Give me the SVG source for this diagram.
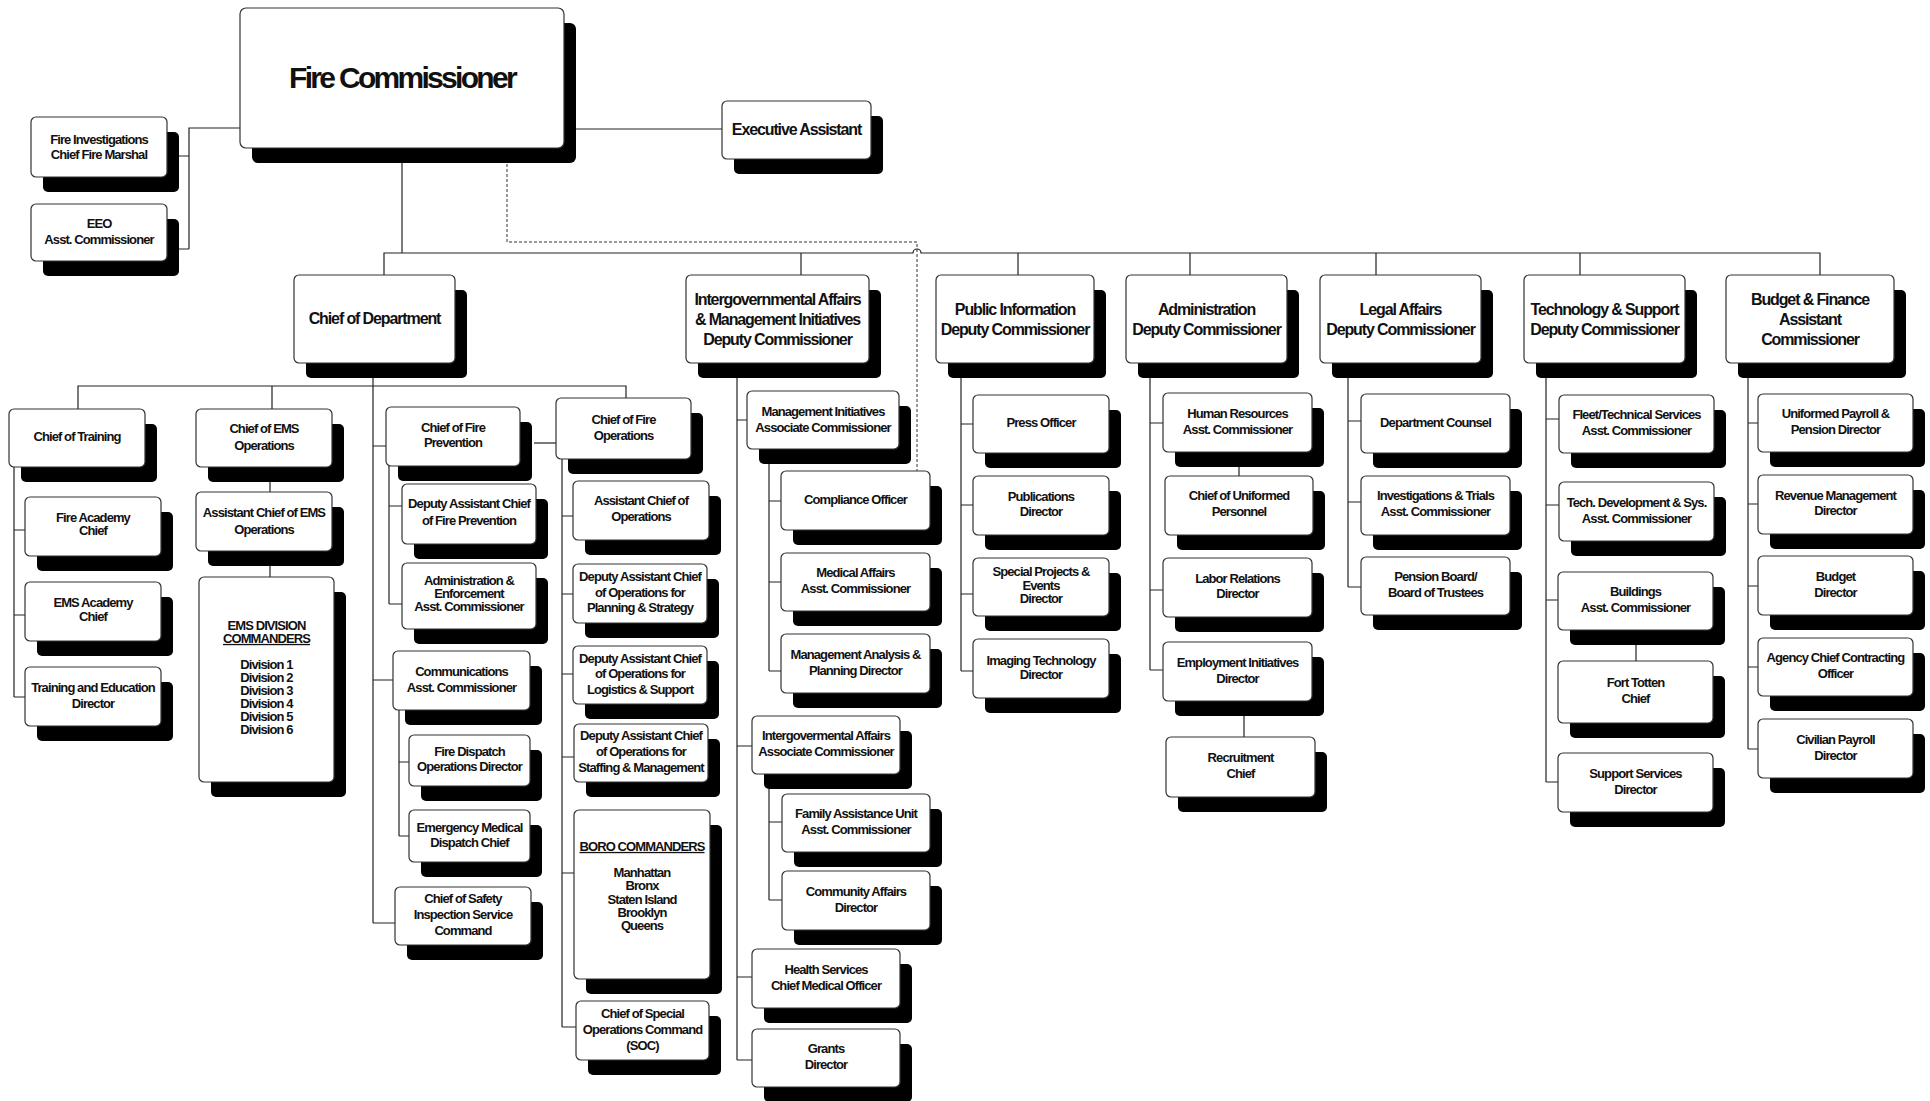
<svg xmlns="http://www.w3.org/2000/svg" width="1930" height="1101" viewBox="0 0 1930 1101">
<style>
.sh{fill:#000}
.bx{fill:#fff;stroke:#333;stroke-width:1.2}
.t,.t2,.t1{font-family:"Liberation Sans",Arial,sans-serif;font-weight:bold;text-anchor:middle;fill:#111}
.t{font-size:13px;letter-spacing:-0.07em;transform:translateY(-1px)}
.t2{font-size:16px;letter-spacing:-0.07em}
.t1{font-size:30px;letter-spacing:-0.09em}
.u{text-decoration:underline}
.ln{fill:none;stroke:#222;stroke-width:1.2}
.dash{fill:none;stroke:#333;stroke-width:1;stroke-dasharray:3 2}
</style>
<rect width="1930" height="1101" fill="#fff"/>
<g id="connectors">
<path class="ln" d="M240,128 H189 V249 M189,156 H179 M189,249 H179"/>
<path class="ln" d="M576,129 H722"/>
<path class="ln" d="M402,148 V253"/>
<path class="ln" d="M384,275 V253 H913 A4,4 0 0 1 921,253 H1820 V275 M801,253 V275 M1018,253 V275 M1190,253 V275 M1376,253 V275 M1580,253 V275"/>
<path class="dash" d="M507,164 V242 H917 V471"/>
<path class="ln" d="M373,378 V923 M373,446 H386 M373,680 H393 M373,923 H395"/>
<path class="ln" d="M78,409 V386 H626 V398 M272,386 V409"/>
<path class="ln" d="M14,467 V697 M14,530 H25 M14,615 H25 M14,697 H25"/>
<path class="ln" d="M270,482 V492 M270,566 V577"/>
<path class="ln" d="M389,466 V604 M389,506 H402 M389,604 H402"/>
<path class="ln" d="M399,710 V836 M399,762 H409 M399,836 H409"/>
<path class="ln" d="M534,443 H556"/>
<path class="ln" d="M562,459 V1027 M562,516 H573 M562,594 H573 M562,674 H573 M562,757 H574 M562,873 H574 M562,1027 H576"/>
<path class="ln" d="M737,378 V1060 M737,420 H747 M737,746 H752 M737,977 H752 M737,1060 H752"/>
<path class="ln" d="M769,464 V671 M769,501 H781 M769,582 H781 M769,671 H781"/>
<path class="ln" d="M769,789 V900 M769,822 H782 M769,900 H782"/>
<path class="ln" d="M961,378 V671 M961,424 H973 M961,505 H973 M961,594 H973 M961,671 H973"/>
<path class="ln" d="M1150,378 V670 M1150,423 H1163 M1150,590 H1163 M1150,670 H1163"/>
<path class="ln" d="M1239,467 V476 M1244,716 V737"/>
<path class="ln" d="M1348,378 V587 M1348,421 H1361 M1348,502 H1361 M1348,587 H1361"/>
<path class="ln" d="M1546,378 V782 M1546,419 H1559 M1546,505 H1559 M1546,600 H1558 M1546,782 H1558"/>
<path class="ln" d="M1636,645 V661"/>
<path class="ln" d="M1748,378 V749 M1748,423 H1758 M1748,504 H1758 M1748,586 H1758 M1748,667 H1758 M1748,749 H1758"/>
</g>

<g id="n-fc"><rect class="sh" x="252" y="23" width="324" height="140" rx="6"/><rect class="bx" x="240" y="8" width="324" height="140" rx="6"/><text class="t1" x="402" y="88">Fire Commissioner</text></g>
<g id="n-fi"><rect class="sh" x="43" y="132" width="136" height="60" rx="5"/><rect class="bx" x="31" y="117" width="136" height="60" rx="5"/><text class="t"><tspan x="99" y="144.6">Fire Investigations</tspan><tspan x="99" y="160.1">Chief Fire Marshal</tspan></text></g>
<g id="n-eeo"><rect class="sh" x="43" y="219" width="136" height="57" rx="5"/><rect class="bx" x="31" y="204" width="136" height="57" rx="5"/><text class="t"><tspan x="99" y="228.6">EEO</tspan><tspan x="99" y="245.3">Asst. Commissioner</tspan></text></g>
<g id="n-ea"><rect class="sh" x="734" y="116" width="149" height="58" rx="5"/><rect class="bx" x="722" y="101" width="149" height="58" rx="5"/><text class="t2" x="796.5" y="135">Executive Assistant</text></g>

<g id="n-cod"><rect class="sh" x="306" y="290" width="161" height="88" rx="5"/><rect class="bx" x="294" y="275" width="161" height="88" rx="5"/><text class="t2" x="374.5" y="323.7">Chief of Department</text></g>
<g id="n-iga"><rect class="sh" x="698" y="290" width="183" height="88" rx="5"/><rect class="bx" x="686" y="275" width="183" height="88" rx="5"/><text class="t2"><tspan x="777.5" y="305">Intergovernmental Affairs</tspan><tspan x="777.5" y="324.7">&amp; Management Initiatives</tspan><tspan x="777.5" y="344.7">Deputy Commissioner</tspan></text></g>
<g id="n-pi"><rect class="sh" x="948" y="290" width="158" height="88" rx="5"/><rect class="bx" x="936" y="275" width="158" height="88" rx="5"/><text class="t2"><tspan x="1015" y="315">Public Information</tspan><tspan x="1015" y="334.7">Deputy Commissioner</tspan></text></g>
<g id="n-adm"><rect class="sh" x="1138" y="290" width="161" height="88" rx="5"/><rect class="bx" x="1126" y="275" width="161" height="88" rx="5"/><text class="t2"><tspan x="1206.5" y="315">Administration</tspan><tspan x="1206.5" y="334.7">Deputy Commissioner</tspan></text></g>
<g id="n-legal"><rect class="sh" x="1332" y="290" width="161" height="88" rx="5"/><rect class="bx" x="1320" y="275" width="161" height="88" rx="5"/><text class="t2"><tspan x="1400.5" y="315">Legal Affairs</tspan><tspan x="1400.5" y="334.7">Deputy Commissioner</tspan></text></g>
<g id="n-tech"><rect class="sh" x="1536" y="290" width="161" height="88" rx="5"/><rect class="bx" x="1524" y="275" width="161" height="88" rx="5"/><text class="t2"><tspan x="1604.5" y="315">Technology &amp; Support</tspan><tspan x="1604.5" y="334.7">Deputy Commissioner</tspan></text></g>
<g id="n-budget"><rect class="sh" x="1738" y="290" width="168" height="88" rx="5"/><rect class="bx" x="1726" y="275" width="168" height="88" rx="5"/><text class="t2"><tspan x="1810" y="305">Budget &amp; Finance</tspan><tspan x="1810" y="325">Assistant</tspan><tspan x="1810" y="344.7">Commissioner</tspan></text></g>

<g id="n-cot"><rect class="sh" x="21" y="424" width="136" height="58" rx="5"/><rect class="bx" x="9" y="409" width="136" height="58" rx="5"/><text class="t" x="77" y="442.3">Chief of Training</text></g>
<g id="n-fac"><rect class="sh" x="37" y="512" width="136" height="59" rx="5"/><rect class="bx" x="25" y="497" width="136" height="59" rx="5"/><text class="t"><tspan x="93" y="523.3">Fire Academy</tspan><tspan x="93" y="535.9">Chief</tspan></text></g>
<g id="n-eac"><rect class="sh" x="37" y="597" width="136" height="59" rx="5"/><rect class="bx" x="25" y="582" width="136" height="59" rx="5"/><text class="t"><tspan x="93" y="608.3">EMS Academy</tspan><tspan x="93" y="622.3">Chief</tspan></text></g>
<g id="n-ted"><rect class="sh" x="37" y="682" width="136" height="59" rx="5"/><rect class="bx" x="25" y="667" width="136" height="59" rx="5"/><text class="t"><tspan x="93" y="693.3">Training and Education</tspan><tspan x="93" y="709.3">Director</tspan></text></g>
<g id="n-cems"><rect class="sh" x="208" y="424" width="136" height="58" rx="5"/><rect class="bx" x="196" y="409" width="136" height="58" rx="5"/><text class="t"><tspan x="264" y="433.9">Chief of EMS</tspan><tspan x="264" y="450.6">Operations</tspan></text></g>
<g id="n-acems"><rect class="sh" x="208" y="507" width="136" height="59" rx="5"/><rect class="bx" x="196" y="492" width="136" height="59" rx="5"/><text class="t"><tspan x="264" y="518.3">Assistant Chief of EMS</tspan><tspan x="264" y="534.6">Operations</tspan></text></g>
<g id="n-emsdiv"><rect class="sh" x="211" y="592" width="135" height="205" rx="5"/><rect class="bx" x="199" y="577" width="135" height="205" rx="5"/><text class="t"><tspan x="266.5" y="630.9">EMS DIVISION</tspan><tspan class="u" x="266.5" y="643.9">COMMANDERS</tspan><tspan x="266.5" y="669.9">Division 1</tspan><tspan x="266.5" y="682.9">Division 2</tspan><tspan x="266.5" y="695.9">Division 3</tspan><tspan x="266.5" y="708.9">Division 4</tspan><tspan x="266.5" y="721.9">Division 5</tspan><tspan x="266.5" y="734.9">Division 6</tspan></text></g>
<g id="n-cfp"><rect class="sh" x="398" y="422" width="134" height="59" rx="5"/><rect class="bx" x="386" y="407" width="134" height="59" rx="5"/><text class="t"><tspan x="453" y="432.9">Chief of Fire</tspan><tspan x="453" y="448.3">Prevention</tspan></text></g>
<g id="n-dacfp"><rect class="sh" x="414" y="499" width="134" height="60" rx="5"/><rect class="bx" x="402" y="484" width="134" height="60" rx="5"/><text class="t"><tspan x="469" y="509.3">Deputy Assistant Chief</tspan><tspan x="469" y="525.9">of Fire Prevention</tspan></text></g>
<g id="n-aea"><rect class="sh" x="414" y="578" width="134" height="66" rx="5"/><rect class="bx" x="402" y="563" width="134" height="66" rx="5"/><text class="t"><tspan x="469" y="586.3">Administration &amp;</tspan><tspan x="469" y="599.3">Enforcement</tspan><tspan x="469" y="611.6">Asst. Commissioner</tspan></text></g>
<g id="n-comm"><rect class="sh" x="405" y="666" width="137" height="59" rx="5"/><rect class="bx" x="393" y="651" width="137" height="59" rx="5"/><text class="t"><tspan x="461.5" y="676.6">Communications</tspan><tspan x="461.5" y="692.6">Asst. Commissioner</tspan></text></g>
<g id="n-fdod"><rect class="sh" x="421" y="750" width="121" height="51" rx="5"/><rect class="bx" x="409" y="735" width="121" height="51" rx="5"/><text class="t"><tspan x="469.5" y="756.9">Fire Dispatch</tspan><tspan x="469.5" y="771.9">Operations Director</tspan></text></g>
<g id="n-emdc"><rect class="sh" x="421" y="825" width="121" height="52" rx="5"/><rect class="bx" x="409" y="810" width="121" height="52" rx="5"/><text class="t"><tspan x="469.5" y="832.9">Emergency Medical</tspan><tspan x="469.5" y="847.9">Dispatch Chief</tspan></text></g>
<g id="n-csis"><rect class="sh" x="407" y="902" width="136" height="58" rx="5"/><rect class="bx" x="395" y="887" width="136" height="58" rx="5"/><text class="t"><tspan x="463" y="903.6">Chief of Safety</tspan><tspan x="463" y="920.3">Inspection Service</tspan><tspan x="463" y="935.9">Command</tspan></text></g>
<g id="n-cfo"><rect class="sh" x="568" y="413" width="135" height="61" rx="5"/><rect class="bx" x="556" y="398" width="135" height="61" rx="5"/><text class="t"><tspan x="623.5" y="424.9">Chief of Fire</tspan><tspan x="623.5" y="440.9">Operations</tspan></text></g>
<g id="n-aco"><rect class="sh" x="585" y="496" width="136" height="59" rx="5"/><rect class="bx" x="573" y="481" width="136" height="59" rx="5"/><text class="t"><tspan x="641" y="506.3">Assistant Chief of</tspan><tspan x="641" y="522.3">Operations</tspan></text></g>
<g id="n-dps"><rect class="sh" x="585" y="579" width="134" height="59" rx="5"/><rect class="bx" x="573" y="564" width="134" height="59" rx="5"/><text class="t"><tspan x="640" y="582.3">Deputy Assistant Chief</tspan><tspan x="640" y="598.3">of Operations for</tspan><tspan x="640" y="612.9">Planning &amp; Strategy</tspan></text></g>
<g id="n-dls"><rect class="sh" x="585" y="661" width="134" height="58" rx="5"/><rect class="bx" x="573" y="646" width="134" height="58" rx="5"/><text class="t"><tspan x="640" y="663.6">Deputy Assistant Chief</tspan><tspan x="640" y="679.3">of Operations for</tspan><tspan x="640" y="694.9">Logistics &amp; Support</tspan></text></g>
<g id="n-dsm"><rect class="sh" x="586" y="739" width="134" height="58" rx="5"/><rect class="bx" x="574" y="724" width="134" height="58" rx="5"/><text class="t"><tspan x="641" y="740.9">Deputy Assistant Chief</tspan><tspan x="641" y="756.9">of Operations for</tspan><tspan x="641" y="772.9">Staffing &amp; Management</tspan></text></g>
<g id="n-boro"><rect class="sh" x="586" y="825" width="136" height="169" rx="5"/><rect class="bx" x="574" y="810" width="136" height="169" rx="5"/><text class="t"><tspan class="u" x="642" y="851.9">BORO COMMANDERS</tspan><tspan x="642" y="877.9">Manhattan</tspan><tspan x="642" y="891.3">Bronx</tspan><tspan x="642" y="904.9">Staten Island</tspan><tspan x="642" y="917.9">Brooklyn</tspan><tspan x="642" y="930.9">Queens</tspan></text></g>
<g id="n-soc"><rect class="sh" x="588" y="1016" width="133" height="59" rx="5"/><rect class="bx" x="576" y="1001" width="133" height="59" rx="5"/><text class="t"><tspan x="642.5" y="1019.3">Chief of Special</tspan><tspan x="642.5" y="1034.9">Operations Command</tspan><tspan x="642.5" y="1050.6">(SOC)</tspan></text></g>

<g id="n-mia"><rect class="sh" x="759" y="406" width="152" height="58" rx="5"/><rect class="bx" x="747" y="391" width="152" height="58" rx="5"/><text class="t"><tspan x="823" y="416.9">Management Initiatives</tspan><tspan x="823" y="432.9">Associate Commissioner</tspan></text></g>
<g id="n-co"><rect class="sh" x="793" y="486" width="149" height="59" rx="5"/><rect class="bx" x="781" y="471" width="149" height="59" rx="5"/><text class="t" x="855.5" y="504.9">Compliance Officer</text></g>
<g id="n-maa"><rect class="sh" x="793" y="568" width="149" height="58" rx="5"/><rect class="bx" x="781" y="553" width="149" height="58" rx="5"/><text class="t"><tspan x="855.5" y="578.3">Medical Affairs</tspan><tspan x="855.5" y="593.9">Asst. Commissioner</tspan></text></g>
<g id="n-mapd"><rect class="sh" x="793" y="649" width="149" height="59" rx="5"/><rect class="bx" x="781" y="634" width="149" height="59" rx="5"/><text class="t"><tspan x="855.5" y="660.3">Management Analysis &amp;</tspan><tspan x="855.5" y="676.3">Planning Director</tspan></text></g>
<g id="n-igac"><rect class="sh" x="764" y="731" width="148" height="58" rx="5"/><rect class="bx" x="752" y="716" width="148" height="58" rx="5"/><text class="t"><tspan x="826" y="741.4">Intergovermental Affairs</tspan><tspan x="826" y="757">Associate Commissioner</tspan></text></g>
<g id="n-fau"><rect class="sh" x="794" y="809" width="148" height="58" rx="5"/><rect class="bx" x="782" y="794" width="148" height="58" rx="5"/><text class="t"><tspan x="856" y="819.3">Family Assistance Unit</tspan><tspan x="856" y="835.3">Asst. Commissioner</tspan></text></g>
<g id="n-cad"><rect class="sh" x="794" y="886" width="148" height="59" rx="5"/><rect class="bx" x="782" y="871" width="148" height="59" rx="5"/><text class="t"><tspan x="856" y="897.3">Community Affairs</tspan><tspan x="856" y="912.6">Director</tspan></text></g>
<g id="n-hs"><rect class="sh" x="764" y="964" width="148" height="59" rx="5"/><rect class="bx" x="752" y="949" width="148" height="59" rx="5"/><text class="t"><tspan x="826" y="974.9">Health Services</tspan><tspan x="826" y="990.9">Chief Medical Officer</tspan></text></g>
<g id="n-grants"><rect class="sh" x="764" y="1044" width="148" height="58" rx="5"/><rect class="bx" x="752" y="1029" width="148" height="58" rx="5"/><text class="t"><tspan x="826" y="1054.3">Grants</tspan><tspan x="826" y="1069.9">Director</tspan></text></g>

<g id="n-press"><rect class="sh" x="985" y="410" width="136" height="58" rx="5"/><rect class="bx" x="973" y="395" width="136" height="58" rx="5"/><text class="t" x="1041" y="428.3">Press Officer</text></g>
<g id="n-pub"><rect class="sh" x="985" y="491" width="136" height="59" rx="5"/><rect class="bx" x="973" y="476" width="136" height="59" rx="5"/><text class="t"><tspan x="1041" y="502.3">Publications</tspan><tspan x="1041" y="517.3">Director</tspan></text></g>
<g id="n-spe"><rect class="sh" x="985" y="573" width="136" height="58" rx="5"/><rect class="bx" x="973" y="558" width="136" height="58" rx="5"/><text class="t"><tspan x="1041" y="577.3">Special Projects &amp;</tspan><tspan x="1041" y="590.6">Events</tspan><tspan x="1041" y="604.3">Director</tspan></text></g>
<g id="n-itd"><rect class="sh" x="985" y="654" width="136" height="59" rx="5"/><rect class="bx" x="973" y="639" width="136" height="59" rx="5"/><text class="t"><tspan x="1041" y="665.6">Imaging Technology</tspan><tspan x="1041" y="680.3">Director</tspan></text></g>

<g id="n-hr"><rect class="sh" x="1175" y="408" width="149" height="59" rx="5"/><rect class="bx" x="1163" y="393" width="149" height="59" rx="5"/><text class="t"><tspan x="1237.5" y="419.3">Human Resources</tspan><tspan x="1237.5" y="434.9">Asst. Commissioner</tspan></text></g>
<g id="n-cup"><rect class="sh" x="1177" y="491" width="148" height="59" rx="5"/><rect class="bx" x="1165" y="476" width="148" height="59" rx="5"/><text class="t"><tspan x="1239" y="500.9">Chief of Uniformed</tspan><tspan x="1239" y="516.9">Personnel</tspan></text></g>
<g id="n-lrd"><rect class="sh" x="1175" y="573" width="149" height="59" rx="5"/><rect class="bx" x="1163" y="558" width="149" height="59" rx="5"/><text class="t"><tspan x="1237.5" y="583.9">Labor Relations</tspan><tspan x="1237.5" y="599.3">Director</tspan></text></g>
<g id="n-eid"><rect class="sh" x="1175" y="657" width="149" height="59" rx="5"/><rect class="bx" x="1163" y="642" width="149" height="59" rx="5"/><text class="t"><tspan x="1237.5" y="668.3">Employment Initiatives</tspan><tspan x="1237.5" y="683.9">Director</tspan></text></g>
<g id="n-rc"><rect class="sh" x="1178" y="752" width="149" height="60" rx="5"/><rect class="bx" x="1166" y="737" width="149" height="60" rx="5"/><text class="t"><tspan x="1240.5" y="763.3">Recruitment</tspan><tspan x="1240.5" y="778.9">Chief</tspan></text></g>

<g id="n-dc"><rect class="sh" x="1373" y="409" width="149" height="59" rx="5"/><rect class="bx" x="1361" y="394" width="149" height="59" rx="5"/><text class="t" x="1435.5" y="428.3">Department Counsel</text></g>
<g id="n-itac"><rect class="sh" x="1373" y="491" width="149" height="59" rx="5"/><rect class="bx" x="1361" y="476" width="149" height="59" rx="5"/><text class="t"><tspan x="1435.5" y="501.3">Investigations &amp; Trials</tspan><tspan x="1435.5" y="516.9">Asst. Commissioner</tspan></text></g>
<g id="n-pb"><rect class="sh" x="1373" y="572" width="149" height="58" rx="5"/><rect class="bx" x="1361" y="557" width="149" height="58" rx="5"/><text class="t"><tspan x="1435.5" y="582.3">Pension Board/</tspan><tspan x="1435.5" y="597.9">Board of Trustees</tspan></text></g>

<g id="n-fts"><rect class="sh" x="1571" y="410" width="155" height="58" rx="5"/><rect class="bx" x="1559" y="395" width="155" height="58" rx="5"/><text class="t"><tspan x="1636.5" y="420.3">Fleet/Technical Services</tspan><tspan x="1636.5" y="435.9">Asst. Commissioner</tspan></text></g>
<g id="n-tds"><rect class="sh" x="1571" y="497" width="155" height="59" rx="5"/><rect class="bx" x="1559" y="482" width="155" height="59" rx="5"/><text class="t"><tspan x="1636.5" y="507.9">Tech. Development &amp; Sys.</tspan><tspan x="1636.5" y="524.3">Asst. Commissioner</tspan></text></g>
<g id="n-bac"><rect class="sh" x="1570" y="587" width="155" height="58" rx="5"/><rect class="bx" x="1558" y="572" width="155" height="58" rx="5"/><text class="t"><tspan x="1635.5" y="597.3">Buildings</tspan><tspan x="1635.5" y="612.9">Asst. Commissioner</tspan></text></g>
<g id="n-ftc"><rect class="sh" x="1570" y="676" width="155" height="62" rx="5"/><rect class="bx" x="1558" y="661" width="155" height="62" rx="5"/><text class="t"><tspan x="1635.5" y="688.3">Fort Totten</tspan><tspan x="1635.5" y="703.9">Chief</tspan></text></g>
<g id="n-ssd"><rect class="sh" x="1570" y="768" width="155" height="59" rx="5"/><rect class="bx" x="1558" y="753" width="155" height="59" rx="5"/><text class="t"><tspan x="1635.5" y="779.3">Support Services</tspan><tspan x="1635.5" y="795.3">Director</tspan></text></g>

<g id="n-upp"><rect class="sh" x="1770" y="409" width="155" height="58" rx="5"/><rect class="bx" x="1758" y="394" width="155" height="58" rx="5"/><text class="t"><tspan x="1835.5" y="419.3">Uniformed Payroll &amp;</tspan><tspan x="1835.5" y="434.9">Pension Director</tspan></text></g>
<g id="n-rmd"><rect class="sh" x="1770" y="490" width="155" height="59" rx="5"/><rect class="bx" x="1758" y="475" width="155" height="59" rx="5"/><text class="t"><tspan x="1835.5" y="500.9">Revenue Management</tspan><tspan x="1835.5" y="515.9">Director</tspan></text></g>
<g id="n-bd"><rect class="sh" x="1770" y="571" width="155" height="59" rx="5"/><rect class="bx" x="1758" y="556" width="155" height="59" rx="5"/><text class="t"><tspan x="1835.5" y="582.3">Budget</tspan><tspan x="1835.5" y="597.9">Director</tspan></text></g>
<g id="n-acco"><rect class="sh" x="1770" y="653" width="155" height="58" rx="5"/><rect class="bx" x="1758" y="638" width="155" height="58" rx="5"/><text class="t"><tspan x="1835.5" y="663.3">Agency Chief Contracting</tspan><tspan x="1835.5" y="678.9">Officer</tspan></text></g>
<g id="n-cpd"><rect class="sh" x="1770" y="734" width="155" height="59" rx="5"/><rect class="bx" x="1758" y="719" width="155" height="59" rx="5"/><text class="t"><tspan x="1835.5" y="745.3">Civilian Payroll</tspan><tspan x="1835.5" y="761.3">Director</tspan></text></g>
</svg>
